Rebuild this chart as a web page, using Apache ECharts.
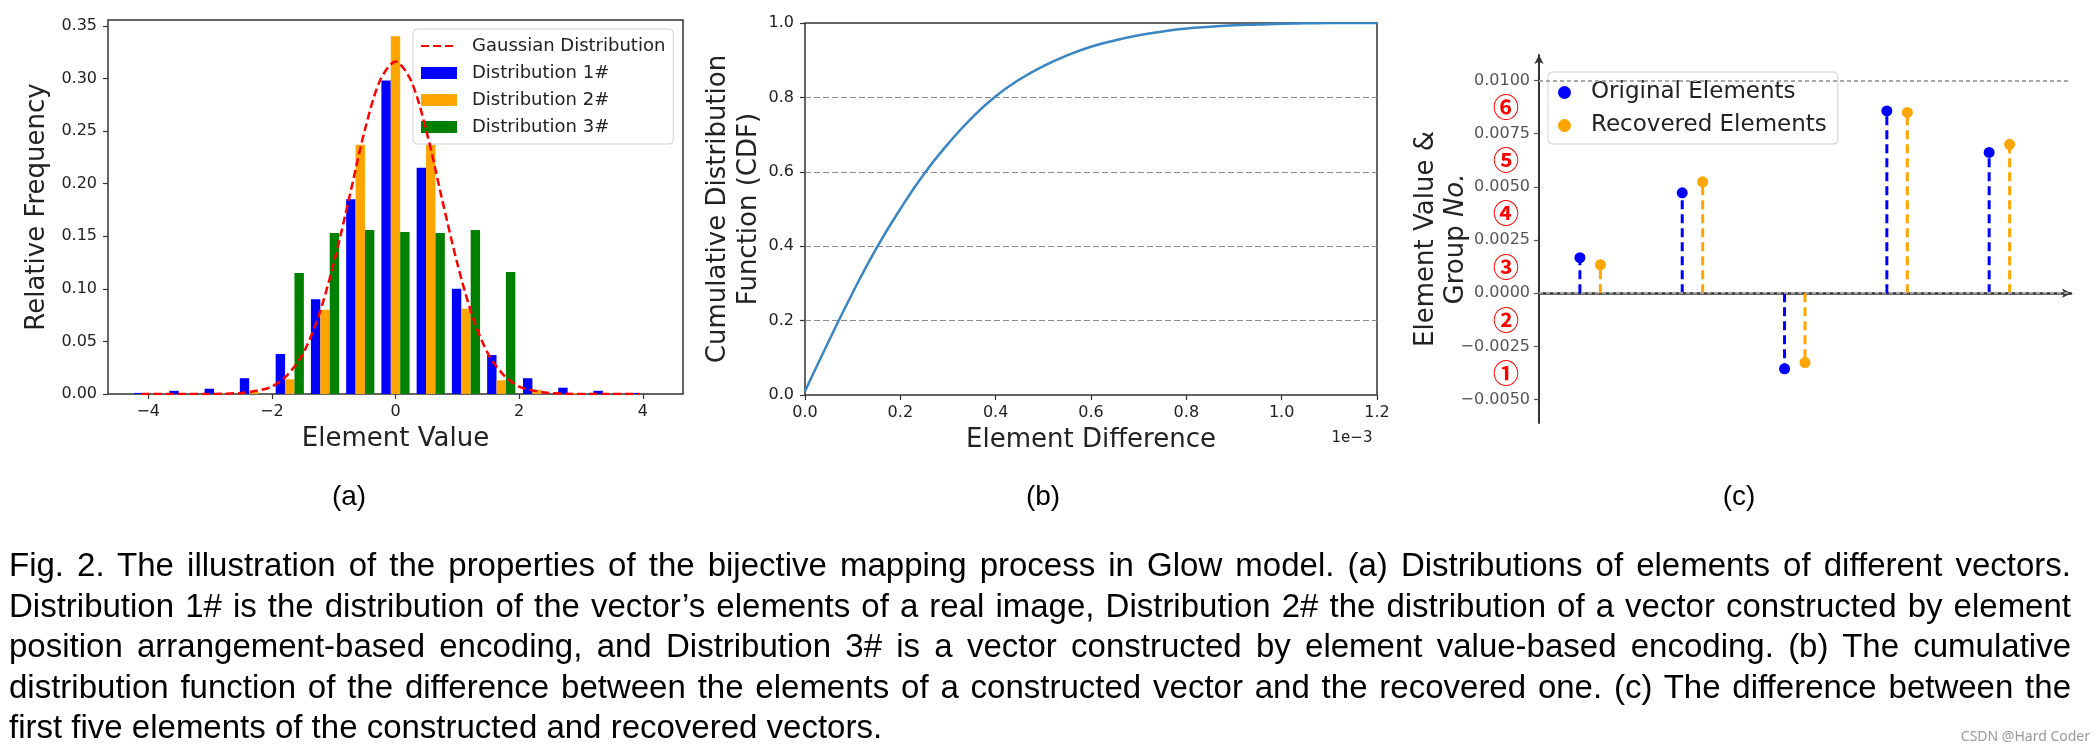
<!DOCTYPE html>
<html>
<head>
<meta charset="utf-8">
<script src="https://cdn.jsdelivr.net/npm/echarts@6/dist/echarts.min.js"></script>
<style>
html,body{margin:0;padding:0;background:#fff;}
#chart{position:absolute;left:0;top:0;width:2098px;height:748px;}
.cap{position:absolute;left:9px;width:2062px;font-family:'Liberation Sans',Arial,sans-serif;font-size:33px;line-height:40px;height:40px;color:#000;text-align:justify;text-align-last:justify;white-space:nowrap;}
.cap.last{text-align:left;text-align-last:left;}
</style>
</head>
<body>
<div id="chart"></div>
<div id="caption"></div>
<script>
// ---------- data (a) histogram ----------
const binCenters = [-4.0, -3.43, -2.86, -2.29, -1.71, -1.14, -0.57, 0, 0.57, 1.14, 1.71, 2.29, 2.86, 3.43, 4.0];
const dist1 = [0.001, 0.003, 0.005, 0.015, 0.038, 0.090, 0.185, 0.298, 0.215, 0.100, 0.037, 0.015, 0.006, 0.003, 0.001];
const dist2 = [0, 0, 0.001, 0.002, 0.014, 0.080, 0.237, 0.340, 0.237, 0.081, 0.013, 0.004, 0.001, 0, 0];
const dist3 = [0, 0, 0, 0, 0.115, 0.153, 0.156, 0.154, 0.153, 0.156, 0.116, 0, 0, 0, 0];
const gaussX = [-4.1, -3.5, -3.0, -2.5, -2.25, -2.0, -1.75, -1.5, -1.25, -1.0, -0.75, -0.5, -0.25, 0, 0.25, 0.5, 0.75, 1.0, 1.25, 1.5, 1.75, 2.0, 2.25, 2.5, 3.0, 3.5, 3.95];
const gaussY = [0, 0, 0, 0.001, 0.003, 0.007, 0.018, 0.038, 0.073, 0.124, 0.186, 0.250, 0.298, 0.316, 0.298, 0.250, 0.186, 0.124, 0.073, 0.038, 0.018, 0.007, 0.003, 0.001, 0, 0, 0];
const histXTicks = [-4, -2, 0, 2, 4];
// ---------- data (b) CDF (x in units of 1e-3) ----------
const cdfX = [0, 0.05, 0.1, 0.15, 0.2, 0.25, 0.3, 0.35, 0.4, 0.45, 0.5, 0.55, 0.6, 0.65, 0.7, 0.75, 0.8, 0.85, 0.9, 0.95, 1.0, 1.05, 1.1, 1.15, 1.2];
const cdfY = [0.01, 0.145, 0.275, 0.395, 0.50, 0.595, 0.675, 0.745, 0.803, 0.848, 0.884, 0.913, 0.936, 0.953, 0.967, 0.977, 0.985, 0.99, 0.994, 0.996, 0.998, 0.999, 1.0, 1.0, 1.0];
// ---------- data (c) stems ----------
const elemIdx = [1, 2, 3, 4, 5];
const originalVals = [0.00167, 0.00472, -0.00355, 0.00857, 0.00662];
const recoveredVals = [0.00134, 0.00524, -0.00326, 0.00850, 0.00700];
const stemTicks = [-0.005, -0.0025, 0, 0.0025, 0.005, 0.0075, 0.01];
const groupNos = ['①', '②', '③', '④', '⑤', '⑥'];
const groupPos = [-0.00375, -0.00125, 0.00125, 0.00375, 0.00625, 0.00875];
// ---------- texts ----------
const captionLines = [
  'Fig. 2. The illustration of the properties of the bijective mapping process in Glow model. (a) Distributions of elements of different vectors.',
  'Distribution 1# is the distribution of the vector\u2019s elements of a real image, Distribution 2# the distribution of a vector constructed by element',
  'position arrangement-based encoding, and Distribution 3# is a vector constructed by element value-based encoding. (b) The cumulative',
  'distribution function of the difference between the elements of a constructed vector and the recovered one. (c) The difference between the',
  'first five elements of the constructed and recovered vectors.'
];

const FONT = "'DejaVu Sans', 'Noto Sans CJK SC', sans-serif";
const TXT = '#222';
const minus = s => s.replace('-', '\u2212');

// caption
const capDiv = document.getElementById('caption');
const capCenters = [565, 605.5, 646, 686.5, 727];
captionLines.forEach((t, i) => {
  const d = document.createElement('div');
  d.className = 'cap' + (i === captionLines.length - 1 ? ' last' : '');
  d.style.top = (capCenters[i] - 20) + 'px';
  if (i !== captionLines.length - 1) d.style.whiteSpace = 'normal';
  d.textContent = t;
  capDiv.appendChild(d);
});

const chart = echarts.init(document.getElementById('chart'), null, {renderer: 'canvas'});

const tickLabel = {fontFamily: FONT, fontSize: 16, color: TXT};
const nameStyle = {fontFamily: FONT, fontSize: 26, color: TXT};

function stemRender(color) {
  return function (params, api) {
    const x = api.value(0), y = api.value(1);
    const p0 = api.coord([x, 0]);
    const p1 = api.coord([x, y]);
    return {
      type: 'group',
      children: [
        {type: 'line', shape: {x1: p0[0], y1: p0[1], x2: p1[0], y2: p1[1]},
         style: {stroke: color, lineWidth: 3, lineDash: [9, 5]}},
        {type: 'circle', shape: {cx: p1[0], cy: p1[1], r: 5.5}, style: {fill: color}}
      ]
    };
  };
}

const option = {
  animation: false,
  backgroundColor: '#fff',
  grid: [
    {left: 108, top: 20, width: 575, height: 374, show: true, borderColor: '#333', borderWidth: 1.5},
    {left: 805, top: 23, width: 572, height: 372, show: true, borderColor: '#333', borderWidth: 1.5},
    {left: 1539, top: 55, width: 532, height: 368, show: false}
  ],
  xAxis: [
    {gridIndex: 0, type: 'value', min: -4.65, max: 4.65,
     axisLine: {show: false, onZero: false}, splitLine: {show: false},
     axisTick: {show: true, length: 5, lineStyle: {color: '#333', width: 1.2}, customValues: histXTicks},
     axisLabel: Object.assign({margin: 10, customValues: histXTicks, formatter: v => minus(String(v))}, tickLabel),
     name: 'Element Value', nameLocation: 'middle', nameGap: 32, nameTextStyle: nameStyle},
    {gridIndex: 1, type: 'value', min: 0, max: 1.2, interval: 0.2,
     axisLine: {show: false, onZero: false}, splitLine: {show: false},
     axisTick: {show: true, length: 5, lineStyle: {color: '#333', width: 1.2}},
     axisLabel: Object.assign({margin: 10, formatter: v => v.toFixed(1)}, tickLabel),
     name: 'Element Difference', nameLocation: 'middle', nameGap: 32, nameTextStyle: nameStyle},
    {gridIndex: 2, type: 'value', min: 0.6, max: 5.8,
     axisLine: {show: true, onZero: true, symbol: ['none', 'arrow'], symbolSize: [7, 9], lineStyle: {color: '#333', width: 2.5, type: 'solid'}},
     axisTick: {show: false}, axisLabel: {show: false}, splitLine: {show: false}}
  ],
  yAxis: [
    {gridIndex: 0, type: 'value', min: 0, max: 0.3555, interval: 0.05,
     axisLine: {show: false, onZero: false}, splitLine: {show: false},
     axisTick: {show: true, length: 5, lineStyle: {color: '#333', width: 1.2}},
     axisLabel: Object.assign({margin: 11, formatter: v => v.toFixed(2)}, tickLabel),
     name: 'Relative Frequency', nameLocation: 'middle', nameGap: 58, nameTextStyle: nameStyle},
    {gridIndex: 1, type: 'value', min: 0, max: 1, interval: 0.2,
     axisLine: {show: false, onZero: false},
     splitLine: {show: true, showMinLine: false, showMaxLine: false, lineStyle: {color: '#8c8c8c', type: [6, 3], width: 1}},
     axisTick: {show: true, length: 5, lineStyle: {color: '#333', width: 1.2}},
     axisLabel: Object.assign({margin: 11, formatter: v => v.toFixed(1)}, tickLabel),
     name: 'Cumulative Distribution\nFunction (CDF)', nameLocation: 'middle', nameGap: 40, nameMoveOverlap: false,
     nameTextStyle: Object.assign({lineHeight: 31}, nameStyle)},
    {gridIndex: 2, type: 'value', min: -0.0061, max: 0.0112,
     axisLine: {show: true, onZero: false, symbol: ['none', 'arrow'], symbolSize: [7, 9], lineStyle: {color: '#333', width: 2}},
     splitLine: {show: false},
     axisTick: {show: true, length: 5, customValues: stemTicks, lineStyle: {color: '#555', width: 1.2}},
     axisLabel: {customValues: stemTicks, margin: 9, fontFamily: FONT, fontSize: 16, color: '#555',
                 formatter: v => minus(v.toFixed(4))},
     name: 'Element Value &\nGroup {it|No.}', nameLocation: 'middle', nameGap: 68, nameMoveOverlap: false,
     nameTextStyle: Object.assign({lineHeight: 30, rich: {it: {fontFamily: FONT, fontSize: 26, fontStyle: 'italic', color: TXT}}}, nameStyle)},
    {gridIndex: 2, type: 'value', min: -0.0061, max: 0.0112, position: 'left',
     axisLine: {show: false, onZero: false}, axisTick: {show: false}, splitLine: {show: false},
     axisLabel: {customValues: groupPos, margin: 20, fontFamily: "'Noto Sans CJK SC', 'DejaVu Sans', sans-serif", fontSize: 26, fontWeight: 'bold', color: '#ff0000',
                 formatter: v => { const k = groupPos.findIndex(p => Math.abs(p - v) < 1e-9); return k >= 0 ? groupNos[k] : ''; }}}
  ],
  legend: [
    {orient: 'vertical', left: 413, top: 29, padding: [8, 8, 8, 7], itemWidth: 36, itemHeight: 12, itemGap: 9,
     backgroundColor: 'rgba(255,255,255,0.8)', borderColor: '#d0d0d0', borderWidth: 1, borderRadius: 4,
     textStyle: {fontFamily: FONT, fontSize: 18, color: TXT, lineHeight: 18, padding: [0, 0, 0, 10]},
     data: [{name: 'Gaussian Distribution', itemStyle: {opacity: 0}}, {name: 'Distribution 1#', icon: 'rect'},
            {name: 'Distribution 2#', icon: 'rect'}, {name: 'Distribution 3#', icon: 'rect'}]},
    {orient: 'vertical', left: 1548, top: 72, padding: [9, 11, 7, 10], itemWidth: 13, itemHeight: 13, itemGap: 10,
     backgroundColor: 'rgba(255,255,255,0.8)', borderColor: '#d0d0d0', borderWidth: 1, borderRadius: 4,
     textStyle: {fontFamily: FONT, fontSize: 23, color: TXT, lineHeight: 23, padding: [0, 0, 0, 15]},
     data: [{name: 'Original Elements', icon: 'circle'}, {name: 'Recovered Elements', icon: 'circle'}]}
  ],
  graphic: [
    {type: 'text', x: 349, y: 497, style: {text: '(a)', font: "28px 'Liberation Sans', Arial, sans-serif", fill: '#000', align: 'center', verticalAlign: 'middle'}},
    {type: 'text', x: 1043, y: 497, style: {text: '(b)', font: "28px 'Liberation Sans', Arial, sans-serif", fill: '#000', align: 'center', verticalAlign: 'middle'}},
    {type: 'text', x: 1739, y: 497, style: {text: '(c)', font: "28px 'Liberation Sans', Arial, sans-serif", fill: '#000', align: 'center', verticalAlign: 'middle'}},
    {type: 'text', x: 1352, y: 438, style: {text: '1e\u22123', font: "15px 'DejaVu Sans', sans-serif", fill: TXT, align: 'center', verticalAlign: 'middle'}},
    {type: 'text', x: 2090, y: 737, style: {text: 'CSDN @Hard Coder', font: "14px 'Noto Sans', sans-serif", fill: '#999', align: 'right', verticalAlign: 'middle'}}
  ],
  series: [
    {name: 'Distribution 1#', type: 'bar', xAxisIndex: 0, yAxisIndex: 0, barGap: '0%', barCategoryGap: '20%',
     itemStyle: {color: '#0000ff'}, data: binCenters.map((x, i) => [x, dist1[i]])},
    {name: 'Distribution 2#', type: 'bar', xAxisIndex: 0, yAxisIndex: 0, barGap: '0%', barCategoryGap: '20%',
     itemStyle: {color: '#ffa500'}, data: binCenters.map((x, i) => [x, dist2[i]])},
    {name: 'Distribution 3#', type: 'bar', xAxisIndex: 0, yAxisIndex: 0, barGap: '0%', barCategoryGap: '20%',
     itemStyle: {color: '#008000'}, data: binCenters.map((x, i) => [x, dist3[i]])},
    {name: 'Gaussian Distribution', type: 'line', xAxisIndex: 0, yAxisIndex: 0, smooth: 0.3, symbol: 'none', z: 5,
     itemStyle: {color: '#ff0000'}, lineStyle: {color: '#ff0000', width: 2.5, type: [8, 4]},
     data: gaussX.map((x, i) => [x, gaussY[i]])},
    {name: 'CDF', type: 'line', xAxisIndex: 1, yAxisIndex: 1, smooth: 0.5, symbol: 'none',
     lineStyle: {color: '#3a86c3', width: 2.5}, itemStyle: {color: '#3a86c3'},
     data: cdfX.map((x, i) => [x, cdfY[i]])},
    {name: 'Original Elements', type: 'custom', xAxisIndex: 2, yAxisIndex: 2, z: 3,
     itemStyle: {color: '#0000ff'}, renderItem: stemRender('#0000ff'),
     encode: {x: 0, y: 1},
     data: elemIdx.map((x, i) => [x, originalVals[i]]),
     markLine: {silent: true, symbol: ['none', 'none'], label: {show: false}, animation: false,
                lineStyle: {color: '#a8a8a8', type: [4, 3], width: 1.5},
                data: stemTicks.filter(v => v !== 0).map(v => ({yAxis: v}))}},
    {name: 'Recovered Elements', type: 'custom', xAxisIndex: 2, yAxisIndex: 2, z: 3,
     itemStyle: {color: '#ffa500'}, renderItem: stemRender('#ffa500'),
     encode: {x: 0, y: 1},
     data: elemIdx.map((x, i) => [x + 0.2, recoveredVals[i]])}
  ]
};
chart.setOption(option);
</script>
</body>
</html>
